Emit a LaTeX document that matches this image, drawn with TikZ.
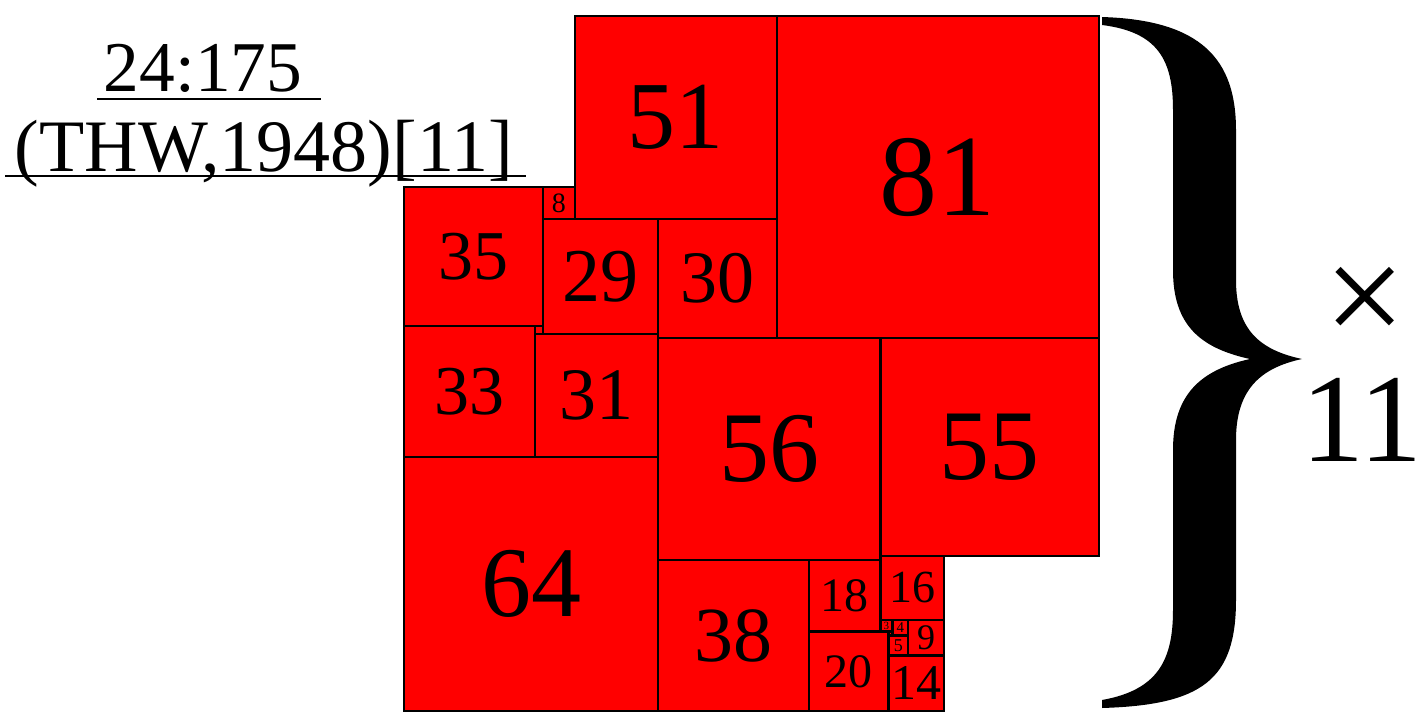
\documentclass[tikz,border=0pt]{standalone}
\usepackage{fontspec}
\setmainfont{Liberation Serif}
\newcommand{\fsz}[1]{\fontsize{#1pt}{#1pt}\selectfont}
\tikzset{
  sq/.style={draw=black, fill=red, line width=1.2pt, inner sep=0pt, outer sep=0pt, rectangle, minimum size=#1},
  lbl/.style={inner sep=0pt, anchor=base},
}
% name, x, y, side, font size, text  (units; 1 unit = 3.97px)
\newcommand{\tsq}[6]{\node[sq={#4*1.985pt}, font=\fsz{#5}] (s#1) at ({404+3.97*(#2+#4/2)},{711-3.97*(#3+#4/2)}) {#6};}
\begin{document}
\begin{tikzpicture}[x=0.5pt,y=-0.5pt]
\useasboundingbox (0,0) rectangle (1421,719);
\tsq{81}{94}{94}{81}{58}{81}
\tsq{51}{43}{124}{51}{48}{51}
\tsq{8}{35}{124}{8}{14}{8}
\tsq{35}{0}{97}{35}{35}{35}
\tsq{29}{35}{95}{29}{38}{29}
\tsq{30}{64}{94}{30}{37}{30}
\tsq{2}{33}{95}{2}{2}{}
\tsq{33}{0}{64}{33}{35}{33}
\tsq{31}{33}{64}{31}{37}{31}
\tsq{56}{64}{38}{56}{50}{56}
\tsq{55}{120}{39}{55}{50}{55}
\tsq{64}{0}{0}{64}{50}{64}
\tsq{38}{64}{0}{38}{39}{38}
\tsq{18}{102}{20}{18}{24}{18}
\tsq{20}{102}{0}{20}{24}{20}
\tsq{16}{120}{23}{16}{23}{16}
\tsq{14}{122}{0}{14}{25}{14}
\tsq{9}{127}{14}{9}{18}{9}
\tsq{5}{122}{14}{5}{9}{5}
\tsq{4}{123}{19}{4}{7.5}{4}
\tsq{3}{120}{20}{3}{5.5}{3}
\tsq{1}{122}{19}{1}{1}{}
% title
\node[lbl, font=\fsz{35.7}] (t1) at (203,91.5) {24:175};
\node[lbl, font=\fsz{37}] (t2) at (264,171) {(THW,1948)[11]};
\draw[line width=1.4pt] (97,99) -- (321,99);
\draw[line width=1.4pt] (5,176) -- (526,176);
% brace
\fill[black] (1102,17) .. controls (1202,20) and (1236,60) .. (1236,130)
  -- (1236,280) .. controls (1236,330) and (1260,350) .. (1302,359)
  .. controls (1260,368) and (1236,390) .. (1236,440)
  -- (1236,600) .. controls (1236,680) and (1202,705) .. (1102,708)
  -- (1102,700) .. controls (1158,690) and (1173,660) .. (1173,610)
  -- (1173,450) .. controls (1173,395) and (1200,370) .. (1250,359)
  .. controls (1200,348) and (1173,325) .. (1173,270)
  -- (1173,110) .. controls (1173,60) and (1158,32) .. (1102,25) -- cycle;
\node[font=\fsz{72}, inner sep=0pt] (times) at (1365,306) {×};
\node[lbl, font=\fsz{63}] (eleven) at (1362,461) {11};
\end{tikzpicture}
\end{document}
